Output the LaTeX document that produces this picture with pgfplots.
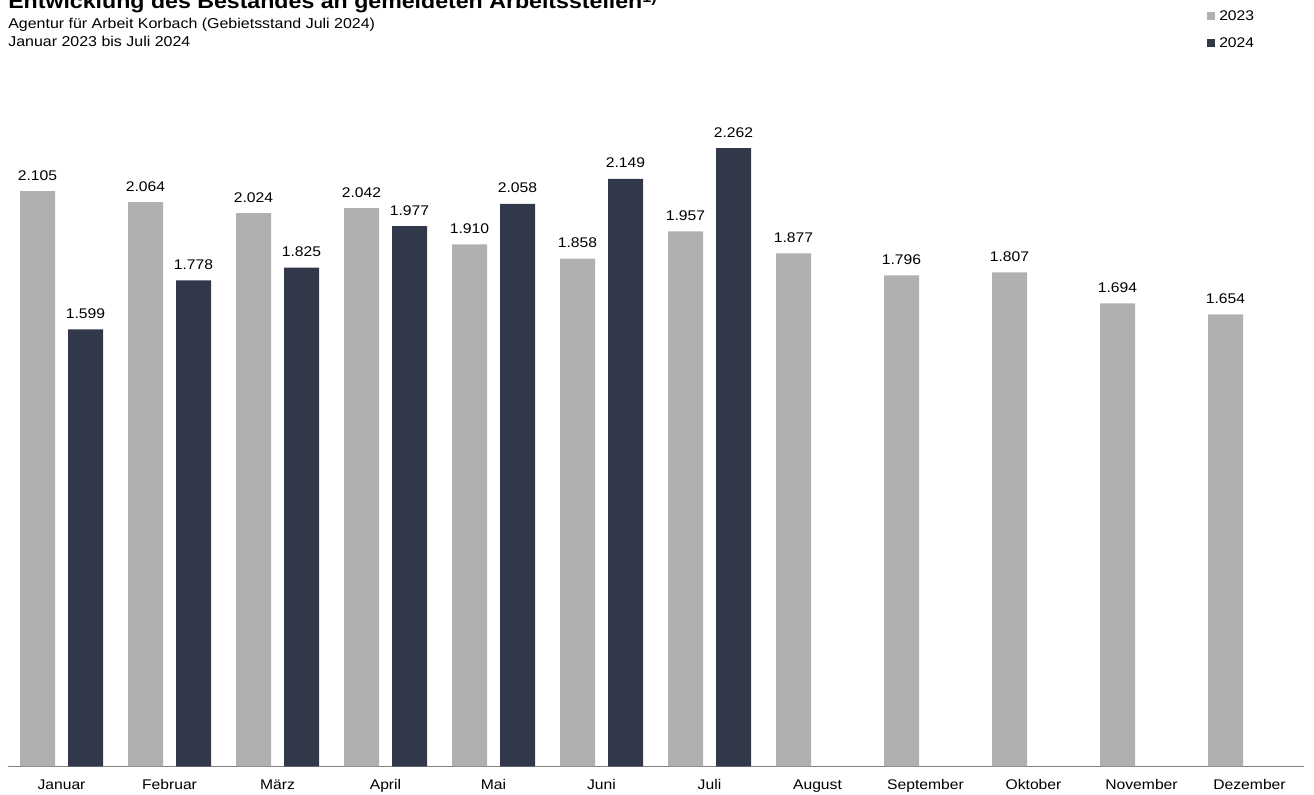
\documentclass[border=0pt]{standalone}
\usepackage{pgfplots}
\pgfplotsset{compat=1.18}
\usepackage{fontspec}
\setmainfont{Liberation Sans}[FakeStretch=1.12]

\definecolor{bar23}{HTML}{B0B0B0}
\definecolor{bar24}{HTML}{303849}
\definecolor{axisgray}{HTML}{808080}

% 1px = 0.75pt, picture 1314x795 px
\begin{document}
\begin{tikzpicture}
\useasboundingbox (0,0) rectangle (985.5pt,596.25pt);
\clip (0,0) rectangle (985.5pt,596.25pt);

% title block (title is cut at the top edge, as in the source)
\node[anchor=base west, inner sep=0, font=\bfseries\fontsize{15.5}{18}\selectfont]
  at (6pt,589.5pt) {Entwicklung des Bestandes an gemeldeten Arbeitsstellen\textsuperscript{1)}};
\node[anchor=base west, inner sep=0, font=\fontsize{10.7}{12}\selectfont]
  at (6pt,574.5pt) {Agentur für Arbeit Korbach (Gebietsstand Juli 2024)};
\node[anchor=base west, inner sep=0, font=\fontsize{10.7}{12}\selectfont]
  at (6pt,561.2pt) {Januar 2023 bis Juli 2024};

% legend
\fill[bar23] (905.25pt,581.25pt) rectangle (911.25pt,587.25pt);
\node[anchor=base west, inner sep=0, font=\fontsize{10.5}{12}\selectfont]
  at (914.25pt,580.5pt) {2023};
\fill[bar24] (905.25pt,560.8pt) rectangle (911.25pt,566.8pt);
\node[anchor=base west, inner sep=0, font=\fontsize{10.5}{12}\selectfont]
  at (914.25pt,560.4pt) {2024};

\begin{axis}[
    at={(5.625pt,21.375pt)}, anchor=south west,
    scale only axis,
    width=972pt, height=533.1pt,
    xmin=-0.5, xmax=11.5,
    ymin=0, ymax=2600,
    enlargelimits=false,
    clip=false,
    ybar, bar width=26.25pt,
    axis x line*=bottom,
    axis y line=none,
    x axis line style={-, draw=axisgray, line width=0.75pt},
    xtick={0,...,11},
    xticklabels={Januar,Februar,März,April,Mai,Juni,Juli,August,September,Oktober,November,Dezember},
    major tick length=0pt,
    xticklabel style={anchor=base, inner sep=0pt, yshift=-17.6pt, font=\fontsize{10.5}{12}\selectfont},
    nodes near coords,
    every node near coord/.append style={anchor=base, inner sep=0pt, yshift=8.25pt,
        font=\fontsize{10.5}{12}\selectfont, text=black},
    /pgf/number format/.cd, 1000 sep={.}, assume math mode=true,
]
\addplot[fill=bar23, draw=none, bar shift=-18pt] coordinates {
    (0,2105) (1,2064) (2,2024) (3,2042) (4,1910) (5,1858)
    (6,1957) (7,1877) (8,1796) (9,1807) (10,1694) (11,1654)
};
\addplot[fill=bar24, draw=none, bar shift=18pt] coordinates {
    (0,1599) (1,1778) (2,1825) (3,1977) (4,2058) (5,2149) (6,2262)
};
\end{axis}
\end{tikzpicture}
\end{document}
